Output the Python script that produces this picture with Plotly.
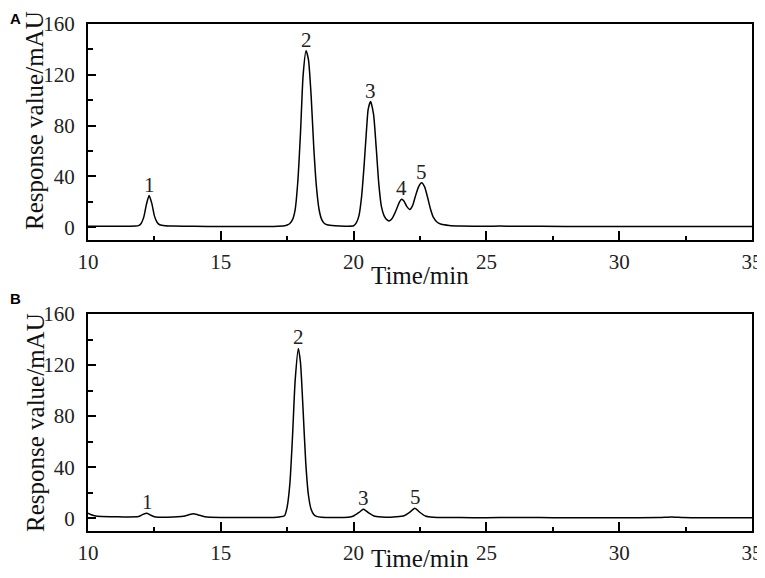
import plotly.graph_objects as go

# chromatogram A
time_a = [10.0, 11.0, 11.8, 11.9, 12.0, 12.1, 12.2, 12.3, 12.4, 12.5, 12.6, 12.7, 12.9, 13.2,
          14.0, 15.0, 16.0, 17.0, 17.4, 17.5, 17.6, 17.7, 17.8, 17.9, 18.0, 18.1, 18.21,
          18.3, 18.4, 18.5, 18.6, 18.7, 18.8, 18.9, 19.0, 19.3, 19.7, 20.0, 20.1, 20.2,
          20.3, 20.4, 20.5, 20.55, 20.64, 20.75, 20.85, 20.95, 21.05, 21.15, 21.25, 21.33,
          21.45, 21.55, 21.65, 21.73, 21.81, 21.9, 22.0, 22.12, 22.22, 22.32, 22.45, 22.56,
          22.67, 22.78, 22.9, 23.0, 23.15, 23.3, 23.6, 24.0, 25.0, 25.5, 26.0, 28.0, 30.0,
          32.0, 35.0]
resp_a = [0.8, 0.8, 1.0, 1.3, 3.0, 8.0, 18.0, 25.0, 19.0, 9.0, 4.0, 2.0, 1.2, 1.0,
          0.8, 0.6, 0.6, 0.7, 1.2, 1.8, 3.0, 6.0, 14.0, 36.0, 74.0, 120.0, 139.0,
          132.0, 104.0, 63.0, 32.0, 14.0, 6.0, 3.0, 2.0, 1.2, 0.9, 1.2, 3.5, 9.0,
          24.0, 50.0, 81.0, 93.0, 99.0, 89.0, 63.0, 34.0, 16.0, 9.0, 6.0, 5.0,
          7.0, 11.0, 16.0, 20.0, 22.0, 20.5, 16.5, 14.0, 17.0, 24.0, 32.0, 35.0,
          32.0, 24.0, 14.0, 8.0, 4.0, 2.4, 1.5, 1.1, 0.8, 1.0, 0.8, 0.7, 0.6,
          0.6, 0.6]

# chromatogram B
time_b = [10.0, 10.15, 10.35, 11.0, 11.5, 11.9, 12.05, 12.21, 12.35, 12.5, 13.0, 13.6, 13.8,
          13.97, 14.15, 14.4, 15.0, 16.0, 17.0, 17.2, 17.4, 17.5, 17.6, 17.7, 17.8, 17.92,
          18.0, 18.1, 18.2, 18.3, 18.4, 18.5, 18.6, 18.8, 19.2, 19.8, 20.0, 20.2, 20.37,
          20.55, 20.8, 21.2, 21.6, 21.9, 22.1, 22.31, 22.5, 22.7, 23.0, 24.0, 25.0, 26.0,
          27.0, 28.0, 30.0, 31.5, 31.97, 32.4, 33.0, 35.0]
resp_b = [4.0, 2.5, 1.5, 1.2, 1.0, 1.3, 2.8, 4.0, 2.5, 1.2, 0.8, 1.5, 2.8,
          3.6, 2.6, 1.2, 0.6, 0.5, 0.6, 1.0, 2.0, 9.0, 27.0, 64.0, 108.0, 133.0,
          122.0, 84.0, 43.0, 18.0, 7.0, 3.0, 1.5, 0.8, 0.6, 0.8, 1.8, 4.5, 7.0,
          4.5, 1.5, 0.8, 1.2, 2.0, 4.5, 7.8, 4.5, 1.8, 0.8, 0.5, 0.4, 0.6,
          0.5, 0.4, 0.4, 0.6, 1.0, 0.6, 0.4, 0.4]

# peak numbers
peak_names_a = ["1", "2", "3", "4", "5"]
peak_time_a = [12.3, 18.21, 20.64, 21.8, 22.56]
peak_resp_a = [25.0, 139.0, 99.0, 22.0, 35.0]

peak_names_b = ["1", "2", "3", "5"]
peak_time_b = [12.24, 17.92, 20.37, 22.33]
peak_resp_b = [4.0, 133.0, 7.0, 7.8]

x_ticks = [10, 15, 20, 25, 30, 35]
y_ticks = [0, 40, 80, 120, 160]

SERIF = "Liberation Serif, Times New Roman, serif"
OFF = 8  # the page puts the figure 8px in from the window corner
W, H = 765 - OFF, 578 - OFF


def px(x):
    return (x - OFF) / W


def py(y):
    return 1 - (y - OFF) / H


fig = go.Figure()
fig.add_trace(go.Scatter(x=time_a, y=resp_a, mode="lines", line=dict(color="black", width=1.5, shape="spline", smoothing=0.6),
                         xaxis="x", yaxis="y", showlegend=False))
fig.add_trace(go.Scatter(x=time_b, y=resp_b, mode="lines", line=dict(color="black", width=1.5, shape="spline", smoothing=0.6),
                         xaxis="x2", yaxis="y2", showlegend=False))

xdom = [px(88), px(752)]
ydom_a = [py(240), py(24)]
ydom_b = [py(531), py(314)]

xax = dict(range=[10, 35], tickvals=x_ticks, ticks="inside", ticklen=9, tickwidth=1.5, tickcolor="black",
           showline=True, linecolor="black", linewidth=2, mirror=True, showgrid=False, zeroline=False,
           automargin=False, ticklabelstandoff=2, tickfont=dict(family=SERIF, size=21, color="#222"),
           minor=dict(tickvals=[12.5, 17.5, 22.5, 27.5, 32.5], ticks="inside", ticklen=4, tickwidth=1.5, tickcolor="black"))
yax = dict(range=[-10, 160], tickvals=y_ticks, ticks="inside", ticklen=8, tickwidth=1.5, tickcolor="black",
           showline=True, linecolor="black", linewidth=2, mirror=True, showgrid=False, zeroline=False,
           automargin=False, ticklabelstandoff=7, tickfont=dict(family=SERIF, size=21, color="#222"),
           minor=dict(tickvals=[20, 60, 100, 140], ticks="inside", ticklen=5, tickwidth=1.5, tickcolor="black"))

fig.update_layout(
    width=W, height=H, margin=dict(l=0, r=0, t=0, b=0),
    plot_bgcolor="white", paper_bgcolor="white",
    xaxis=dict(xax, domain=xdom, anchor="y"),
    yaxis=dict(yax, domain=ydom_a, anchor="x"),
    xaxis2=dict(xax, domain=xdom, anchor="y2"),
    yaxis2=dict(yax, domain=ydom_b, anchor="x2"),
)

anns = []
for n, t, r in zip(peak_names_a, peak_time_a, peak_resp_a):
    anns.append(dict(x=t, y=r, xref="x", yref="y", text=n, showarrow=False, yanchor="bottom", yshift=-3,
                     font=dict(family=SERIF, size=21, color="#222")))
for n, t, r in zip(peak_names_b, peak_time_b, peak_resp_b):
    anns.append(dict(x=t, y=r, xref="x2", yref="y2", text=n, showarrow=False, yanchor="bottom", yshift=-3,
                     font=dict(family=SERIF, size=21, color="#222")))

# axis titles (they overlap the tick labels in the original)
for yc_x, yc_y in [(275, 121), (558, 423)]:
    anns.append(dict(x=px(420), y=py(yc_x), xref="paper", yref="paper", text="Time/min", showarrow=False,
                     font=dict(family=SERIF, size=25, color="#111"), xanchor="center", yanchor="middle"))
    anns.append(dict(x=px(35), y=py(yc_y), xref="paper", yref="paper", text="Response value/mAU", showarrow=False,
                     textangle=-90, font=dict(family=SERIF, size=25, color="#111"), xanchor="center", yanchor="middle"))

# panel letters (kept inside the figure's left/top edge)
anns.append(dict(x=0, y=1, xref="paper", yref="paper", text="<b>A</b>", showarrow=False,
                 xanchor="left", yanchor="top",
                 font=dict(family="Liberation Sans, Arial, sans-serif", size=15, color="black")))
anns.append(dict(x=0, y=py(298), xref="paper", yref="paper", text="<b>B</b>", showarrow=False,
                 xanchor="left", yanchor="middle",
                 font=dict(family="Liberation Sans, Arial, sans-serif", size=15, color="black")))

fig.update_layout(annotations=anns)

fig.write_html("out.html")
